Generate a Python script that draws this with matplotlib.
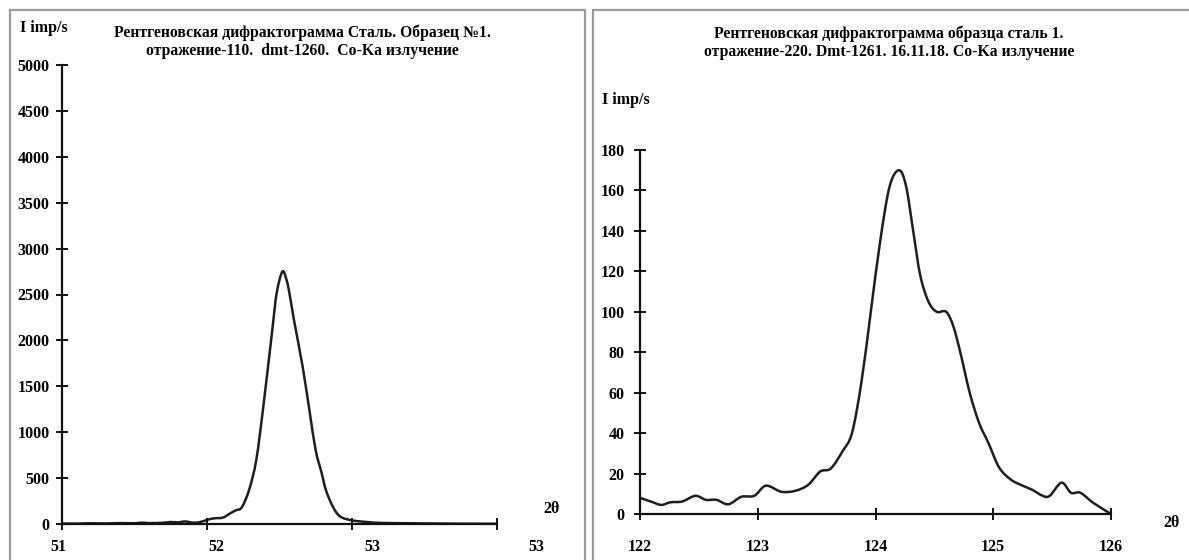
import matplotlib
matplotlib.use("Agg")
import matplotlib.pyplot as plt
from matplotlib.patches import Rectangle, PathPatch
from matplotlib.path import Path

plt.rcParams['font.family'] = ['Liberation Serif', 'DejaVu Serif']
plt.rcParams['font.weight'] = 'bold'

# ---------------- data ----------------
left_title = "Рентгеновская дифрактограмма Сталь. Образец №1.\nотражение-110.  dmt-1260.  Co-Ka излучение"
right_title = "Рентгеновская дифрактограмма образца сталь 1.\nотражение-220. Dmt-1261. 16.11.18. Co-Ka излучение"
y_label = "I imp/s"
x_label = "2θ"

left_2theta = [51.00, 51.10, 51.20, 51.30, 51.40, 51.50, 51.55, 51.60, 51.70, 51.75,
               51.80, 51.85, 51.90, 51.95, 52.00, 52.05, 52.11, 52.16, 52.20, 52.24,
               52.29, 52.34, 52.39, 52.45, 52.48, 52.52, 52.55, 52.57, 52.60, 52.66,
               52.71, 52.75, 52.79, 52.82, 52.87, 52.92, 53.00, 53.10, 53.20, 53.40,
               53.60, 53.80, 54.00]
left_intensity = [5, 4, 8, 6, 10, 8, 15, 10, 14, 22,
                  18, 28, 15, 20, 45, 62, 70, 116, 150, 182,
                  370, 700, 1300, 2110, 2510, 2750, 2650, 2500, 2220, 1710,
                  1200, 800, 560, 370, 182, 80, 40, 22, 12, 8,
                  5, 3, 2]
left_yticks = [0, 500, 1000, 1500, 2000, 2500, 3000, 3500, 4000, 4500, 5000]
left_xticks = [51, 52, 53, 54]
left_xticklabels = ["51", "52", "53", "53"]

right_2theta = [122.00, 122.10, 122.18, 122.26, 122.36, 122.47, 122.56, 122.65, 122.75, 122.86,
                122.97, 123.07, 123.20, 123.32, 123.43, 123.53, 123.62, 123.72, 123.80, 123.88,
                123.96, 124.04, 124.12, 124.20, 124.26, 124.32, 124.38, 124.45, 124.52, 124.60,
                124.66, 124.72, 124.80, 124.88, 124.96, 125.05, 125.15, 125.25, 125.33, 125.42,
                125.48, 125.58, 125.66, 125.74, 125.85, 126.00]
right_intensity = [8, 6, 4.5, 5.8, 6.2, 9, 7, 7, 4.8, 8.5,
                   9, 14, 11, 11.5, 14.5, 21, 22.5, 31, 40, 65,
                   100, 135, 162, 170, 162, 140, 118, 105, 100, 100,
                   93, 80, 60, 45, 35, 23, 17, 14, 12, 9,
                   9, 15.5, 10.5, 10.5, 5.5, 0]
right_yticks = [0, 20, 40, 60, 80, 100, 120, 140, 160, 180]
right_xticks = [122, 123, 124, 125, 126]

# ---------------- figure ----------------
W, H = 1189, 560
fig = plt.figure(figsize=(W / 100, H / 100), dpi=100)
fig.patch.set_facecolor('white')


def fx(px):
    return px / W


def fy(py):
    return 1 - py / H


# panel borders
for (x0, x1) in [(10, 585), (593, 1200)]:
    fig.patches.append(Rectangle((fx(x0), fy(575)), fx(x1) - fx(x0), fy(10) - fy(575),
                                 transform=fig.transFigure, fill=False,
                                 edgecolor='#9a9a9a', linewidth=1.6, zorder=0))

line_color = '#1e1e1e'
tick_fs = 11.5
title_fs = 11.3
lab_fs = 11.5


def smooth_line(ax, xs, ys, **kw):
    """Draw a polyline through the data points as a smoothed (Excel-like) Bezier path."""
    verts = [(xs[0], ys[0])]
    codes = [Path.MOVETO]
    n = len(xs)
    t = 1 / 6
    for i in range(n - 1):
        x0, y0 = (xs[i - 1], ys[i - 1]) if i > 0 else (xs[i], ys[i])
        x1, y1 = xs[i], ys[i]
        x2, y2 = xs[i + 1], ys[i + 1]
        x3, y3 = (xs[i + 2], ys[i + 2]) if i + 2 < n else (xs[i + 1], ys[i + 1])
        c1 = (x1 + (x2 - x0) * t, y1 + (y2 - y0) * t)
        c2 = (x2 - (x3 - x1) * t, y2 - (y3 - y1) * t)
        verts += [c1, c2, (x2, y2)]
        codes += [Path.CURVE4] * 3
    ax.add_patch(PathPatch(Path(verts, codes), fill=False, **kw))


def style_axes(ax):
    for s in ['top', 'right']:
        ax.spines[s].set_visible(False)
    for s in ['left', 'bottom']:
        ax.spines[s].set_linewidth(1.6)
        ax.spines[s].set_color('#111111')
    ax.tick_params(direction='inout', length=8, width=1.4, color='#111111',
                   labelsize=tick_fs)
    ax.patch.set_alpha(0)


# left axes: 51 at x=62, 54 at x=497 ; 0 at y=524, 5000 at y=65
axL = fig.add_axes([fx(62), fy(524), fx(497) - fx(62), fy(65) - fy(524)])
smooth_line(axL, left_2theta, left_intensity, edgecolor=line_color, lw=1.8)
axL.set_xlim(51, 54)
axL.set_ylim(0, 5000)
axL.set_yticks(left_yticks)
axL.set_xticks(left_xticks)
axL.set_xticklabels([""] * len(left_xticks))
style_axes(axL)
axL.tick_params(axis='y', pad=5)
left_label_px = [58, 216, 372, 536]
for lbl, px in zip(left_xticklabels, left_label_px):
    fig.text(fx(px), fy(547), lbl, ha='center', va='center', fontsize=tick_fs, fontweight='bold')
fig.text(fx(302), fy(42), left_title, ha='center', va='center', fontsize=title_fs,
         fontweight='bold', linespacing=1.2)
fig.text(fx(20), fy(28), y_label, ha='left', va='center', fontsize=lab_fs, fontweight='bold')
fig.text(fx(552), fy(509), x_label, ha='center', va='center', fontsize=lab_fs, fontweight='bold')

# right axes: 122 at x=640, 126 at x=1111 ; 0 at y=514, 180 at y=150
axR = fig.add_axes([fx(640), fy(514), fx(1111) - fx(640), fy(150) - fy(514)])
smooth_line(axR, right_2theta, right_intensity, edgecolor=line_color, lw=1.8)
axR.set_xlim(122, 126)
axR.set_ylim(0, 180)
axR.set_yticks(right_yticks)
axR.set_xticks(right_xticks)
style_axes(axR)
axR.tick_params(axis='y', pad=7)
axR.tick_params(axis='x', pad=14)
fig.text(fx(889), fy(43), right_title, ha='center', va='center', fontsize=title_fs,
         fontweight='bold', linespacing=1.2)
fig.text(fx(602), fy(100), y_label, ha='left', va='center', fontsize=lab_fs, fontweight='bold')
fig.text(fx(1172), fy(523), x_label, ha='center', va='center', fontsize=lab_fs, fontweight='bold')

fig.savefig("out.png", dpi=100, facecolor='white')
